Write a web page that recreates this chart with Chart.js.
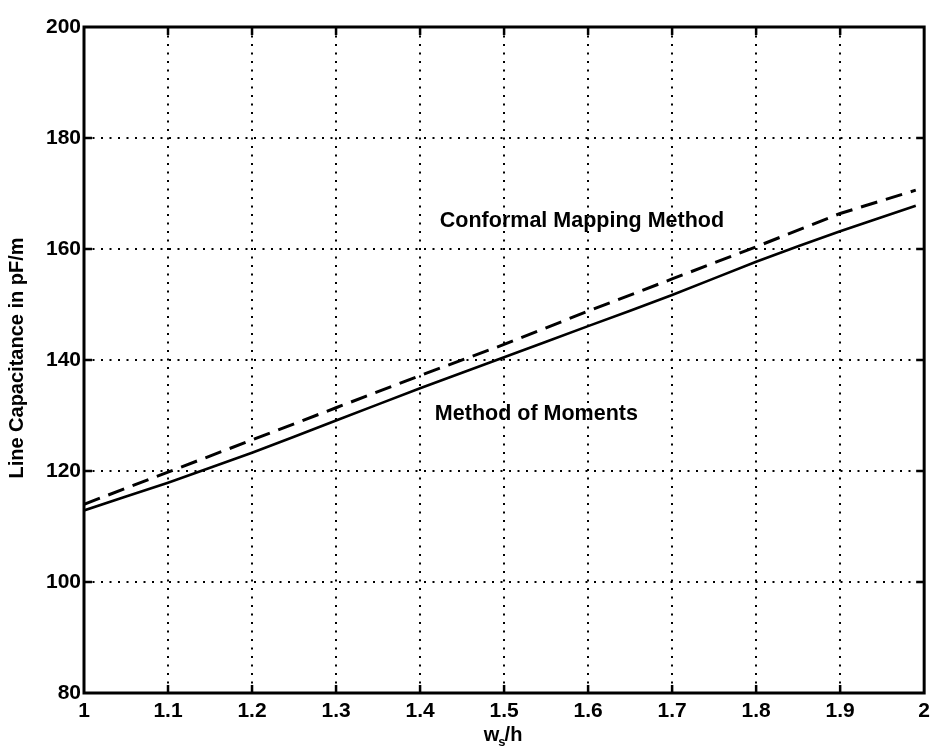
<!DOCTYPE html>
<html>
<head>
<meta charset="utf-8">
<script src="https://cdn.jsdelivr.net/npm/chart.js@4.4.1/dist/chart.umd.min.js"></script>
<style>
html,body{margin:0;padding:0;background:#fff;}
#wrap{width:936px;height:747px;}
</style>
</head>
<body>
<div id="wrap"><canvas id="capChart" width="936" height="747"></canvas></div>
<script>
// values
const xValues = [1.0, 1.1, 1.2, 1.3, 1.4, 1.5, 1.6, 1.7, 1.8, 1.9, 1.99];
const momValues = [112.9, 117.9, 123.3, 129.1, 134.9, 140.5, 146.1, 151.7, 157.7, 163.2, 167.8];
const conformalValues = [114.0, 119.8, 125.6, 131.4, 137.2, 142.8, 148.8, 154.6, 160.4, 166.4, 170.6];

const xTicks = [1, 1.1, 1.2, 1.3, 1.4, 1.5, 1.6, 1.7, 1.8, 1.9, 2];
const yTicks = [80, 100, 120, 140, 160, 180, 200];

// text notes inside the plot, placed in data units
const noteLabels = ['Conformal Mapping Method', 'Method of Moments'];
const noteX = [1.4235, 1.4176];
const noteY = [165, 130.2];

const yTitle = 'Line Capacitance in pF/m';

const FONT = '"Liberation Sans", Arial, Helvetica, sans-serif';

const toPoints = (xs, ys) => xs.map((x, i) => ({x: x, y: ys[i]}));

// frame, inner tick marks, notes and axis titles
const framePlugin = {
  id: 'frame',
  afterDraw(chart) {
    const ctx = chart.ctx;
    const a = chart.chartArea;
    const xs = chart.scales.x;
    const ys = chart.scales.y;
    ctx.save();
    ctx.strokeStyle = '#000';
    ctx.lineWidth = 3;
    ctx.strokeRect(a.left, a.top, a.right - a.left, a.bottom - a.top);

    ctx.lineWidth = 2.5;
    const len = 8;
    ctx.beginPath();
    xTicks.slice(1, -1).forEach(v => {
      const px = xs.getPixelForValue(v);
      ctx.moveTo(px, a.bottom); ctx.lineTo(px, a.bottom - len);
      ctx.moveTo(px, a.top); ctx.lineTo(px, a.top + len);
    });
    yTicks.slice(1, -1).forEach(v => {
      const py = ys.getPixelForValue(v);
      ctx.moveTo(a.left, py); ctx.lineTo(a.left + len, py);
      ctx.moveTo(a.right, py); ctx.lineTo(a.right - len, py);
    });
    ctx.stroke();

    ctx.fillStyle = '#000';
    ctx.font = 'bold 21.5px ' + FONT;
    ctx.textAlign = 'left';
    ctx.textBaseline = 'middle';
    noteLabels.forEach((t, i) => {
      ctx.fillText(t, xs.getPixelForValue(noteX[i]), ys.getPixelForValue(noteY[i]));
    });

    // y axis title
    ctx.save();
    ctx.translate(17, 358);
    ctx.rotate(-Math.PI / 2);
    ctx.textAlign = 'center';
    ctx.font = 'bold 20px ' + FONT;
    ctx.fillText(yTitle, 0, 0);
    ctx.restore();

    // x axis title w_s/h
    const cx = xs.getPixelForValue(1.5);
    const base = 741;
    ctx.textBaseline = 'alphabetic';
    ctx.font = 'bold 20px ' + FONT;
    const wW = ctx.measureText('w').width;
    ctx.font = 'bold 13px ' + FONT;
    const sW = ctx.measureText('s').width;
    ctx.font = 'bold 20px ' + FONT;
    const hW = ctx.measureText('/h').width;
    let x0 = cx - (wW + sW + hW) / 2;
    ctx.fillText('w', x0, base);
    ctx.font = 'bold 13px ' + FONT;
    ctx.fillText('s', x0 + wW - 1, base + 5);
    ctx.font = 'bold 20px ' + FONT;
    ctx.fillText('/h', x0 + wW + sW - 2, base);
    ctx.restore();
  }
};

const ctx = document.getElementById('capChart');

new Chart(ctx, {
  type: 'line',
  data: {
    datasets: [
      {
        label: 'Conformal Mapping Method',
        data: toPoints(xValues, conformalValues),
        borderColor: '#000',
        borderWidth: 3,
        borderDash: [17, 9],
        pointRadius: 0,
        fill: false,
        tension: 0
      },
      {
        label: 'Method of Moments',
        data: toPoints(xValues, momValues),
        borderColor: '#000',
        borderWidth: 2.6,
        pointRadius: 0,
        fill: false,
        tension: 0.2
      }
    ]
  },
  options: {
    responsive: false,
    animation: false,
    devicePixelRatio: 1,
    layout: {padding: {top: 27, right: 9, left: 0, bottom: 0}},
    plugins: {
      legend: {display: false},
      tooltip: {enabled: false}
    },
    scales: {
      x: {
        type: 'linear',
        min: 1,
        max: 2,
        afterBuildTicks: s => { s.ticks = xTicks.map(v => ({value: v})); },
        afterFit: s => { s.height = 54; },
        ticks: {
          color: '#000',
          font: {family: FONT, size: 21, weight: 'bold'},
          padding: 6,
          maxRotation: 0,
          callback: v => String(+Number(v).toFixed(1))
        },
        grid: {color: '#000', lineWidth: 2, drawTicks: false},
        border: {display: false, dash: [2, 6.5]}
      },
      y: {
        min: 80,
        max: 200,
        afterBuildTicks: s => { s.ticks = yTicks.map(v => ({value: v})); },
        afterFit: s => { s.width = 84; },
        ticks: {
          color: '#000',
          font: {family: FONT, size: 21, weight: 'bold'},
          padding: 3
        },
        grid: {color: '#000', lineWidth: 2, drawTicks: false},
        border: {display: false, dash: [2, 6.5]}
      }
    }
  },
  plugins: [framePlugin]
});
</script>
</body>
</html>
